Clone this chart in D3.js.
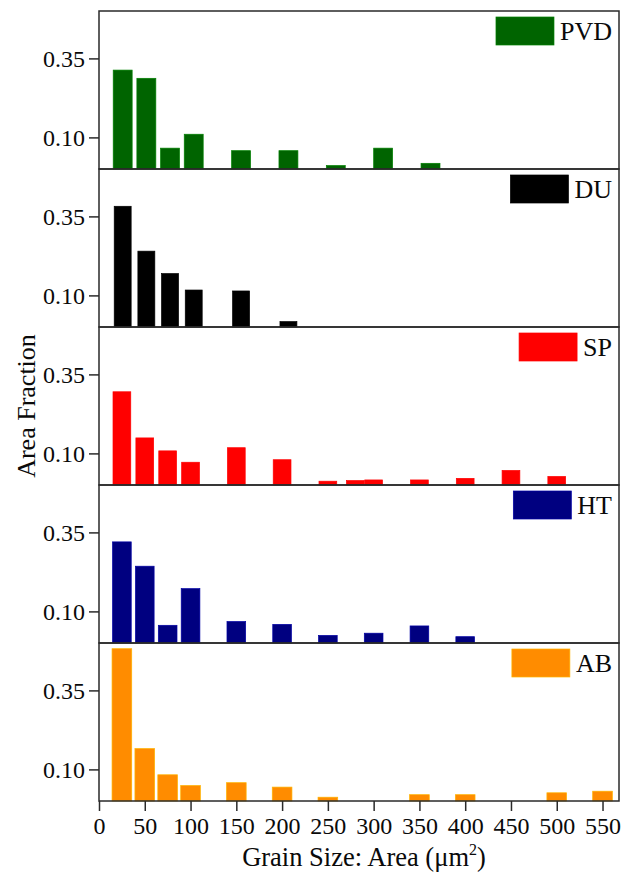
<!DOCTYPE html>
<html>
<head>
<meta charset="utf-8">
<script src="https://cdn.jsdelivr.net/npm/d3@7/dist/d3.min.js"></script>
<style>
  html, body { margin: 0; padding: 0; background: #fff; }
  svg text { font-family: "Liberation Serif", "Times New Roman", serif; fill: #0a0a0a; }
</style>
</head>
<body>
<svg id="chart" width="630" height="878"></svg>
<script>
// ---- data ----
const seriesNames = ["PVD", "DU", "SP", "HT", "AB"];
const pvdSize = [25, 50, 75, 100, 150, 200, 250, 300, 350];
const pvdFrac = [0.313, 0.287, 0.066, 0.110, 0.058, 0.058, 0.011, 0.066, 0.018];
const duSize = [25, 50, 75, 100, 150, 200];
const duFrac = [0.382, 0.240, 0.169, 0.117, 0.114, 0.017];
const spSize = [25, 50, 75, 100, 150, 200, 250, 280, 300, 350, 400, 450, 500];
const spFrac = [0.295, 0.149, 0.108, 0.072, 0.118, 0.080, 0.012, 0.014, 0.016, 0.016, 0.021, 0.046, 0.027];
const htSize = [25, 50, 75, 100, 150, 200, 250, 300, 350, 400];
const htFrac = [0.320, 0.243, 0.056, 0.172, 0.068, 0.059, 0.024, 0.031, 0.054, 0.020];
const abSize = [25, 50, 75, 100, 150, 200, 250, 350, 400, 500, 550];
const abFrac = [0.482, 0.166, 0.083, 0.049, 0.058, 0.044, 0.012, 0.020, 0.020, 0.026, 0.031];
const yTickValues = [0.10, 0.35];
const xTickValues = [0, 50, 100, 150, 200, 250, 300, 350, 400, 450, 500, 550];
const xTitle = "Grain Size: Area (";
const yTitle = "Area Fraction";

// ---- layout / style ----
const svg = d3.select("#chart");
const FONT = '"Liberation Serif", "Times New Roman", serif';
const plotLeft = 99, plotRight = 619, plotTop = 11, panelH = 158;
const colors = ["#006400", "#000000", "#ff0000", "#000080", "#ff8c00"];
const xMaxes = [549, 549, 568, 568, 568];
const barWidths = [20.7, 18.5, 19.4, 20.4, 21.5];
const sizes = [pvdSize, duSize, spSize, htSize, abSize];
const fracs = [pvdFrac, duFrac, spFrac, htFrac, abFrac];
const lineColor = "#2a2a2a";

const xMain = d3.scaleLinear().domain([0, 568]).range([plotLeft, plotRight]);

seriesNames.forEach((name, i) => {
  const y0 = plotTop + i * panelH;
  const x = d3.scaleLinear().domain([0, xMaxes[i]]).range([plotLeft, plotRight]);
  const y = d3.scaleLinear().domain([0, 0.5]).range([y0 + panelH, y0]);
  const g = svg.append("g");
  const data = sizes[i].map((s, k) => ({ s, v: fracs[i][k] }));
  const w = xMain(barWidths[i]) - xMain(0);
  const col = colors[i];
  g.selectAll("rect.bar").data(data).enter().append("rect")
    .attr("class", "bar")
    .attr("x", d => x(d.s) - w / 2)
    .attr("width", w)
    .attr("y", d => y(d.v))
    .attr("height", d => y(0) - y(d.v))
    .attr("fill", col)
    .attr("stroke", d3.color(col).brighter(0.7))
    .attr("stroke-width", 0.7);

  // y axis
  const ya = g.append("g").attr("transform", `translate(${plotLeft},0)`)
    .call(d3.axisLeft(y).tickValues(yTickValues).tickFormat(d3.format(".2f")).tickSize(10).tickPadding(4));
  ya.select(".domain").remove();
  ya.selectAll("line").attr("stroke", lineColor).attr("stroke-width", 1.5);
  ya.selectAll("text").attr("font-size", 24).attr("fill", "#0a0a0a").style("font-family", FONT);

  // panel frame
  g.append("rect").attr("x", plotLeft).attr("y", y0).attr("width", plotRight - plotLeft).attr("height", panelH)
    .attr("fill", "none").attr("stroke", lineColor).attr("stroke-width", 1.5);

  // legend
  const lt = g.append("text").attr("x", 612).attr("y", y0 + 29)
    .attr("text-anchor", "end").attr("font-size", 26).style("font-family", FONT).text(name);
  const tw = lt.node().getComputedTextLength();
  g.append("rect").attr("x", 612 - tw - 6 - 58).attr("y", y0 + 6)
    .attr("width", 58).attr("height", 28).attr("fill", col)
    .attr("stroke", d3.color(col).brighter(0.7)).attr("stroke-width", 0.7);
});

// x axis
const plotBottom = plotTop + 5 * panelH;
const xa = svg.append("g").attr("transform", `translate(0,${plotBottom})`)
  .call(d3.axisBottom(xMain).tickValues(xTickValues).tickSize(10).tickPadding(6));
xa.select(".domain").remove();
xa.selectAll("line").attr("stroke", lineColor).attr("stroke-width", 1.5);
xa.selectAll("text").attr("font-size", 24).attr("fill", "#0a0a0a").style("font-family", FONT);

// axis titles
const xt = svg.append("text").attr("x", (plotLeft + plotRight) / 2 + 5).attr("y", 866)
  .attr("text-anchor", "middle").attr("font-size", 26.5).style("font-family", FONT);
xt.append("tspan").text(xTitle);
xt.append("tspan").text("\u03bcm");
xt.append("tspan").attr("font-size", 16).attr("dy", -11).text("2");
xt.append("tspan").attr("dy", 11).text(")");

svg.append("text").attr("transform", `translate(35,${plotTop + 2.5 * panelH}) rotate(-90)`)
  .attr("text-anchor", "middle").attr("font-size", 26).style("font-family", FONT).text(yTitle);
</script>
</body>
</html>
